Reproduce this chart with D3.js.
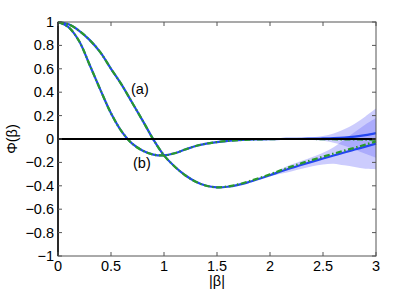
<!DOCTYPE html>
<html>
<head>
<meta charset="utf-8">
<script src="https://cdn.jsdelivr.net/npm/d3@7"></script>
<style>
  html, body { margin: 0; padding: 0; background: #fff; }
  svg { display: block; font-family: "Liberation Sans", Arial, sans-serif; }
  .tick-label { font-size: 14.5px; fill: #000; }
</style>
</head>
<body>
<div id="chart"></div>
<script>
// |beta| sample points
const betaValues = [0.0, 0.1, 0.2, 0.3, 0.4, 0.5, 0.6, 0.7, 0.8, 0.9,
  1.0, 1.1, 1.2, 1.3, 1.4, 1.5, 1.6, 1.7, 1.8, 1.9,
  2.0, 2.1, 2.2, 2.3, 2.4, 2.5, 2.6, 2.7, 2.8, 2.9, 3.0];

// curve (a): blue solid and green dash-dot
const curveABlue = [1.0, 0.98, 0.925, 0.845, 0.74, 0.60, 0.465, 0.31, 0.155, -0.005,
  -0.14, -0.235, -0.31, -0.365, -0.40, -0.413, -0.408, -0.392, -0.368, -0.34,
  -0.31, -0.278, -0.248, -0.22, -0.193, -0.167, -0.141, -0.115, -0.09, -0.065, -0.04];
const curveAGreen = [1.0, 0.98, 0.925, 0.845, 0.74, 0.60, 0.465, 0.31, 0.155, -0.005,
  -0.14, -0.235, -0.31, -0.365, -0.40, -0.413, -0.406, -0.388, -0.362, -0.333,
  -0.302, -0.268, -0.236, -0.206, -0.178, -0.151, -0.125, -0.099, -0.074, -0.048, -0.02];

// curve (b)
const curveBBlue = [1.0, 0.955, 0.835, 0.63, 0.42, 0.22, 0.065, -0.04, -0.10, -0.133,
  -0.14, -0.122, -0.09, -0.06, -0.04, -0.026, -0.017, -0.01, -0.006, -0.003,
  -0.001, 0.0, 0.001, 0.002, 0.003, 0.005, 0.008, 0.013, 0.021, 0.033, 0.05];
const curveBGreen = [1.0, 0.955, 0.835, 0.63, 0.42, 0.22, 0.065, -0.04, -0.10, -0.133,
  -0.14, -0.122, -0.09, -0.06, -0.04, -0.026, -0.017, -0.01, -0.006, -0.003,
  -0.001, 0.0, 0.0, 0.0, 0.0, -0.001, -0.002, -0.003, -0.004, -0.005, -0.006];

// uncertainty bands (half widths) for beta >= 2
const bandBeta = [2.0, 2.1, 2.2, 2.3, 2.4, 2.5, 2.6, 2.7, 2.8, 2.9, 3.0];
const bandAHalf = [0.01, 0.02, 0.03, 0.035, 0.04, 0.05, 0.07, 0.11, 0.15, 0.19, 0.22];
const bandBHalf = [0.002, 0.003, 0.005, 0.008, 0.012, 0.02, 0.04, 0.07, 0.11, 0.16, 0.21];

const xTicks = [0, 0.5, 1, 1.5, 2, 2.5, 3];
const yTicks = [-1, -0.8, -0.6, -0.4, -0.2, 0, 0.2, 0.4, 0.6, 0.8, 1];

const width = 415, height = 294;
const margin = { top: 22, right: 39, bottom: 38, left: 58 };

const svg = d3.select("#chart").append("svg")
  .attr("width", width)
  .attr("height", height);

const x = d3.scaleLinear().domain([0, 3]).range([margin.left, width - margin.right]);
const y = d3.scaleLinear().domain([-1, 1]).range([height - margin.bottom, margin.top]);

const fmt = d => d < 0 ? "\u2212" + Math.abs(d) : String(d);

function series(vals) {
  return betaValues.map((b, i) => ({ b, v: vals[i] }));
}

function bandData(center, half) {
  const offset = betaValues.indexOf(2.0);
  return bandBeta.map((b, i) => ({
    b,
    lo: center[offset + i] - half[i],
    hi: center[offset + i] + half[i],
  }));
}

const area = d3.area()
  .x(d => x(d.b))
  .y0(d => y(d.lo))
  .y1(d => y(d.hi))
  .curve(d3.curveCatmullRom);

svg.append("path")
  .datum(bandData(curveABlue, bandAHalf))
  .attr("d", area)
  .attr("fill", "rgb(110,110,250)")
  .attr("fill-opacity", 0.35);

svg.append("path")
  .datum(bandData(curveBBlue, bandBHalf))
  .attr("d", area)
  .attr("fill", "rgb(110,110,250)")
  .attr("fill-opacity", 0.35);

const line = d3.line()
  .x(d => x(d.b))
  .y(d => y(d.v))
  .curve(d3.curveCatmullRom);

[curveABlue, curveBBlue].forEach(vals => {
  svg.append("path")
    .datum(series(vals))
    .attr("d", line)
    .attr("fill", "none")
    .attr("stroke", "#2346f0")
    .attr("stroke-width", 2.2);
});

[curveAGreen, curveBGreen].forEach(vals => {
  svg.append("path")
    .datum(series(vals))
    .attr("d", line)
    .attr("fill", "none")
    .attr("stroke", "#2a9a2a")
    .attr("stroke-width", 2.2)
    .attr("stroke-dasharray", "6,2.5,1.5,2.5");
});

// zero line
svg.append("line")
  .attr("x1", x(0)).attr("x2", x(3))
  .attr("y1", y(0)).attr("y2", y(0))
  .attr("stroke", "#000")
  .attr("stroke-width", 2);

// box axes, matlab style
const axisColor = "#555";
const tickLen = 4;

svg.append("rect")
  .attr("x", x(0)).attr("y", y(1))
  .attr("width", x(3) - x(0)).attr("height", y(-1) - y(1))
  .attr("fill", "none")
  .attr("stroke", axisColor)
  .attr("stroke-width", 1);

svg.append("line")
  .attr("x1", x(0)).attr("x2", x(0))
  .attr("y1", y(1)).attr("y2", y(-1))
  .attr("stroke", "#000")
  .attr("stroke-width", 1.5);

const xt = svg.append("g");
xTicks.forEach(t => {
  xt.append("line")
    .attr("x1", x(t)).attr("x2", x(t))
    .attr("y1", y(-1)).attr("y2", y(-1) - tickLen)
    .attr("stroke", axisColor);
  xt.append("line")
    .attr("x1", x(t)).attr("x2", x(t))
    .attr("y1", y(1)).attr("y2", y(1) + tickLen)
    .attr("stroke", axisColor);
  xt.append("text")
    .attr("class", "tick-label")
    .attr("x", x(t))
    .attr("y", 271)
    .attr("text-anchor", "middle")
    .text(fmt(t));
});

const yt = svg.append("g");
yTicks.forEach(t => {
  yt.append("line")
    .attr("x1", x(0)).attr("x2", x(0) + tickLen)
    .attr("y1", y(t)).attr("y2", y(t))
    .attr("stroke", axisColor);
  yt.append("line")
    .attr("x1", x(3)).attr("x2", x(3) - tickLen)
    .attr("y1", y(t)).attr("y2", y(t))
    .attr("stroke", axisColor);
  yt.append("text")
    .attr("class", "tick-label")
    .attr("x", x(0) - 4)
    .attr("y", y(t))
    .attr("dy", "0.35em")
    .attr("text-anchor", "end")
    .text(fmt(+t.toFixed(1)));
});

svg.append("text")
  .attr("class", "tick-label")
  .attr("x", x(1.5))
  .attr("y", 286)
  .attr("text-anchor", "middle")
  .text("|\u03b2|");

svg.append("text")
  .attr("class", "tick-label")
  .attr("transform", `translate(17,${y(0)}) rotate(-90)`)
  .attr("text-anchor", "middle")
  .text("\u03a6(\u03b2)");

svg.append("text")
  .attr("class", "tick-label")
  .attr("x", 131).attr("y", 94)
  .text("(a)");

svg.append("text")
  .attr("class", "tick-label")
  .attr("x", 133).attr("y", 168)
  .text("(b)");
</script>
</body>
</html>
